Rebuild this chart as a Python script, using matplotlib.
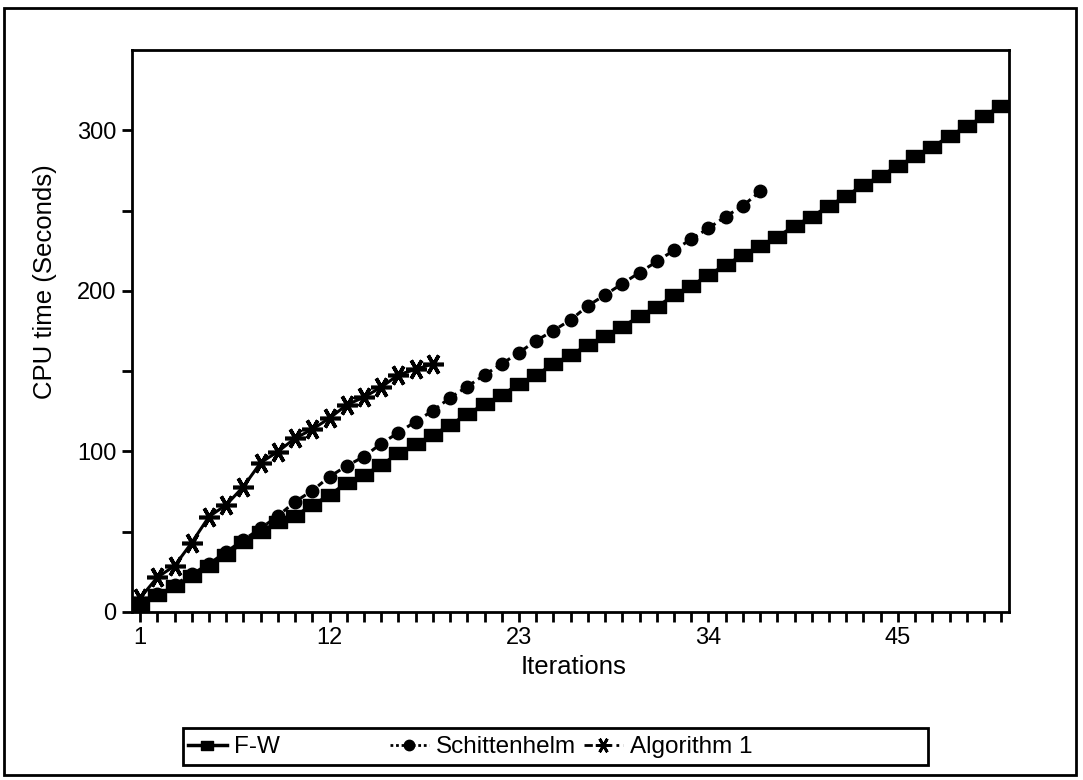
import numpy as np
import matplotlib
matplotlib.use("Agg")
import matplotlib.pyplot as plt
from matplotlib.lines import Line2D
from matplotlib.patches import Rectangle
from matplotlib.path import Path

plt.rcParams['font.family'] = ['Liberation Sans', 'DejaVu Sans']

# CPU time (seconds) per iteration
fw_time = [4.4, 10.6, 16.2, 22.4, 28.7, 35.5, 43.4, 50.0, 56.3, 60.0,
           66.7, 72.9, 80.6, 85.4, 91.6, 98.9, 104.7, 110.3, 116.5, 123.4,
           129.4, 135.2, 142.0, 147.7, 154.5, 160.1, 166.4, 172.0, 177.6, 184.4,
           190.2, 197.2, 203.1, 210.0, 216.2, 222.4, 228.0, 233.8, 240.5, 246.3,
           253.0, 259.2, 266.0, 271.7, 277.9, 283.7, 289.5, 296.6, 302.4, 309.0,
           315.3]
schit_time = [5.0, 11.0, 17.0, 23.5, 30.0, 37.5, 44.9, 52.1, 59.8, 68.7,
              75.6, 84.3, 91.0, 96.8, 104.9, 111.7, 118.6, 125.4, 133.4, 140.4,
              147.7, 154.5, 161.6, 169.0, 175.3, 181.9, 190.7, 197.5, 204.5, 211.4,
              218.3, 225.3, 232.2, 239.0, 246.3, 253.0, 261.9]
alg1_time = [8.7, 21.6, 28.7, 43.2, 59.4, 66.7, 78.1, 93.0, 99.9, 108.2,
             113.8, 120.7, 129.0, 133.8, 140.0, 147.7, 151.2, 154.5]

x_ticks = [1, 12, 23, 34, 45]
y_ticks = [0, 100, 200, 300]

fw_iter = np.arange(1, len(fw_time) + 1)
schit_iter = np.arange(1, len(schit_time) + 1)
alg1_iter = np.arange(1, len(alg1_time) + 1)

# wide filled rectangle marker like the original
rect = Path([(-1, -0.72), (1, -0.72), (1, 0.72), (-1, 0.72), (-1, -0.72)],
            [Path.MOVETO, Path.LINETO, Path.LINETO, Path.LINETO, Path.CLOSEPOLY])

fig = plt.figure(figsize=(10.83, 7.8), dpi=100)
ax = fig.add_axes([132 / 1083, 1 - 612 / 780, 877 / 1083, 562 / 780])

ax.plot(fw_iter, fw_time, color='black', lw=2.2, marker=rect, ms=12.5,
        mfc='black', mec='black')
ax.plot(schit_iter, schit_time, color='black', lw=2.2, ls=(0, (2, 1.5)),
        marker='o', ms=9, mfc='black', mec='black')
ax.plot(alg1_iter, alg1_time, color='black', lw=2.2, ls='-',
        marker=(6, 2, 90), ms=15, mew=2.6, mec='black')

ax.set_xlim(0.53, 51.45)
ax.set_ylim(0, 350)
ax.set_xticks(np.arange(1, 52), minor=True)
ax.set_xticks(x_ticks)
ax.set_yticks(y_ticks)
ax.set_yticks([50, 150, 250], minor=True)
ax.tick_params(which='both', direction='out', length=7, width=2,
               labelsize=17, pad=4)
ax.tick_params(which='both', top=False, right=False)
for s in ax.spines.values():
    s.set_linewidth(2)

ax.set_xlabel('Iterations', fontsize=18.5)
ax.set_ylabel('CPU time (Seconds)', fontsize=18.5)
ax.xaxis.set_label_coords(0.503, -0.077)
ax.yaxis.set_label_coords(-0.086, 0.587)

# legend: three equal-width entries in one framed box
entries = [
    ('F-W', Line2D([], [], color='black', lw=2.5, marker=rect, ms=9), 188),
    ('Schittenhelm', Line2D([], [], color='black', lw=2, ls=(0, (1, 1)),
                            marker='o', ms=7.5), 390),
    ('Algorithm 1', Line2D([], [], color='black', lw=2, ls=(0, (3, 1.5, 1, 1.5)),
                           marker=(6, 2, 90), ms=11, mew=2), 584),
]
for label, h, xpix in entries:
    fig.legend(handles=[h], labels=[label], loc='center left',
               bbox_to_anchor=(xpix / 1083, 1 - 747 / 780), frameon=False,
               fontsize=17.5, handlelength=1.6, handletextpad=0.3,
               borderpad=0, borderaxespad=0)

fig.patches.append(Rectangle((183 / 1083, 1 - 765 / 780), 745 / 1083, 37 / 780,
                             transform=fig.transFigure, fill=False,
                             edgecolor='black', lw=2))
fig.patches.append(Rectangle((4 / 1083, 1 - 775 / 780), 1072 / 1083, 767 / 780,
                             transform=fig.transFigure, fill=False,
                             edgecolor='black', lw=2))

fig.savefig('out.png', dpi=100)
